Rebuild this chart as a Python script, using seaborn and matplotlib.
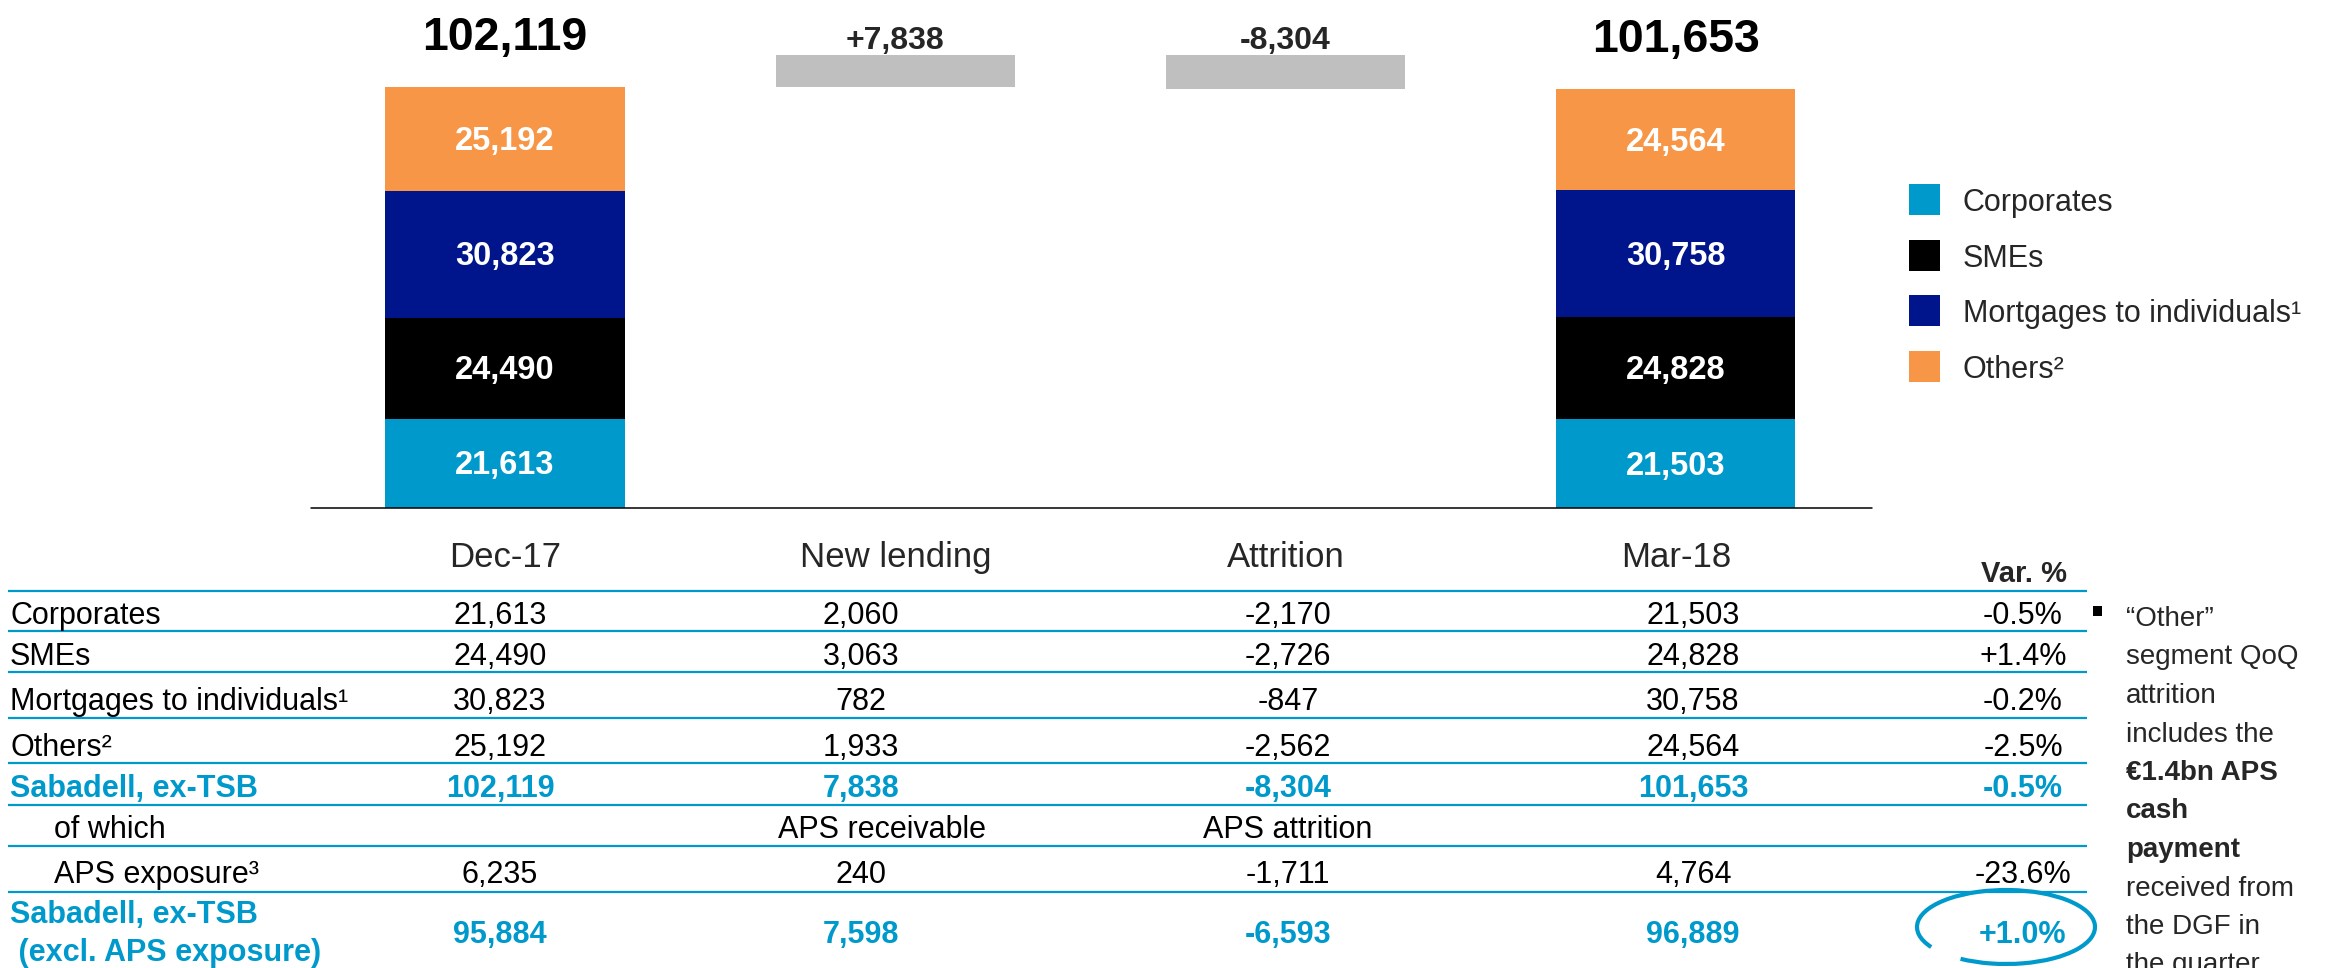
import numpy as np
import pandas as pd
import matplotlib
matplotlib.use("Agg")
import matplotlib.pyplot as plt
import seaborn as sns
from matplotlib.patches import Rectangle, Arc

# ---------------- data ----------------
steps = ["Dec-17", "New lending", "Attrition", "Mar-18"]
segments = ["Corporates", "SMEs", "Mortgages to individuals¹", "Others²"]
dec17 = [21613, 24490, 30823, 25192]
mar18 = [21503, 24828, 30758, 24564]
dec17_total = 102119
mar18_total = 101653
new_lending = 7838
attrition = -8304

row_labels = ["Corporates", "SMEs", "Mortgages to individuals¹", "Others²",
              "Sabadell, ex-TSB", "of which", "APS exposure³",
              "Sabadell, ex-TSB\n (excl. APS exposure)"]
col_dec = [21613, 24490, 30823, 25192, 102119, None, 6235, 95884]
col_new = [2060, 3063, 782, 1933, 7838, "APS receivable", 240, 7598]
col_attr = [-2170, -2726, -847, -2562, -8304, "APS attrition", -1711, -6593]
col_mar = [21503, 24828, 30758, 24564, 101653, None, 4764, 96889]
col_var = [-0.5, 1.4, -0.2, -2.5, -0.5, None, -23.6, 1.0]
var_header = "Var. %"

note_lines = ["“Other”", "segment QoQ", "attrition", "includes the",
              "€1.4bn APS", "cash", "payment", "received from",
              "the DGF in", "the quarter"]
note_bold = [False, False, False, False, True, True, True, False, False, False]

# ---------------- style ----------------
sns.set_style("white")
plt.rcParams["font.family"] = ["Liberation Sans", "DejaVu Sans"]

BLUE = "#0099CC"
colors = ["#0099CC", "#000000", "#00148C", "#F79646"]
GRAY = "#BFBFBF"

W, H = 2344, 968
fig = plt.figure(figsize=(W / 100, H / 100), dpi=100)
ax = fig.add_axes([0, 0, 1, 1])

# layout (pixel geometry of the bar area)
X0, PX_CAT = 505.0, 390.3
BASE, SCALE = 508.0, (508.0 - 87.0) / 102119.0
BW = 239.0 / PX_CAT
PT = 0.72  # points per pixel

# ---------------- stacked bars (seaborn) ----------------
df = pd.DataFrame({
    "step": ["Dec-17"] * 4 + ["Mar-18"] * 4,
    "segment": segments * 2,
    "value": dec17 + mar18,
})
df["top"] = df.groupby("step")["value"].cumsum()
df["mid"] = df["top"] - df["value"] / 2

for seg, col in reversed(list(zip(segments, colors))):
    sub = df[df["segment"] == seg]
    sns.barplot(data=sub, x="step", y="top", order=steps, color=col,
                saturation=1, width=BW, errorbar=None, linewidth=0, ax=ax)

# floating waterfall bars
ax.bar([1], [new_lending], bottom=[dec17_total], width=BW, color=GRAY, linewidth=0)
ax.bar([2], [-attrition], bottom=[dec17_total + new_lending + attrition],
       width=BW, color=GRAY, linewidth=0)

ax.set_xlim(-X0 / PX_CAT, (W - X0) / PX_CAT)
ax.set_ylim((BASE - H) / SCALE, BASE / SCALE)
ax.set_axis_off()

ax.axhline(0, xmin=311 / W, xmax=1872 / W, color="black", lw=1.1)

# segment labels
for _, r in df.iterrows():
    xi = steps.index(r["step"])
    ax.annotate(f"{r['value']:,}", (xi, r["mid"]), xytext=(0, -11 * PT),
                textcoords="offset points", ha="center", va="baseline",
                color="white", fontsize=23.5, fontweight="bold")

# total labels
for xi, tot in [(0, dec17_total), (3, mar18_total)]:
    ax.annotate(f"{tot:,}", (xi, tot), xytext=(0, 37 * PT),
                textcoords="offset points", ha="center", va="baseline",
                fontsize=33.5, fontweight="bold", color="black")
ax.annotate(f"{new_lending:+,}", (1, dec17_total + new_lending), xytext=(0, 6 * PT),
            textcoords="offset points", ha="center", va="baseline",
            fontsize=23, fontweight="bold")
ax.annotate(f"{attrition:+,}", (2, dec17_total + new_lending), xytext=(0, 6 * PT),
            textcoords="offset points", ha="center", va="baseline",
            fontsize=23, fontweight="bold")

# column headers below the bars
for xi, s in enumerate(steps):
    ax.annotate(s, (xi, 0), xytext=(0, -59 * PT), textcoords="offset points",
                ha="center", va="baseline", fontsize=25)

# ---------------- overlay in pixel coordinates ----------------
ov = fig.add_axes([0, 0, 1, 1], zorder=5)
ov.set_xlim(0, W)
ov.set_ylim(H, 0)
ov.set_axis_off()
ov.patch.set_alpha(0)

# legend
leg_y = [184, 240, 295, 351]
for seg, col, y in zip(segments, colors, leg_y):
    ov.add_patch(Rectangle((1909, y), 31, 31, color=col, lw=0))
    ov.text(1963, y + 27, seg, fontsize=22, va="baseline", ha="left")

# table
ov.text(2024, 582, var_header, fontsize=21, fontweight="bold", ha="center", va="baseline")
line_y = [591, 631, 672, 718, 763, 805, 846, 892]
for y in line_y:
    ov.plot([8, 2087], [y, y], color=BLUE, lw=1.6, solid_capstyle="butt")

row_base = [624, 665, 710, 756, 797, 838, 883, 943]
col_x = [500, 861, 1288, 1693]


def fmt(v):
    if v is None:
        return ""
    if isinstance(v, str):
        return v
    return f"{v:,}"


for i, lab in enumerate(row_labels):
    y = row_base[i]
    highlight = i in (4, 7)
    kw = dict(fontsize=22, va="baseline",
              color=BLUE if highlight else "black",
              fontweight="bold" if highlight else "normal")
    lx = 54 if i in (5, 6) else 10
    if i == 7:
        ov.text(10, 923, "Sabadell, ex-TSB", ha="left", **kw)
        ov.text(10, 961, " (excl. APS exposure)", ha="left", **kw)
    else:
        ov.text(lx, y, lab, ha="left", **kw)
    for cx, col in zip(col_x, [col_dec, col_new, col_attr, col_mar]):
        v = col[i]
        if isinstance(v, str):
            cx = 882 if v.startswith("APS rec") else cx
        ov.text(cx, y, fmt(v), ha="center", **kw)
    if col_var[i] is not None:
        ov.text(2023, y, f"{col_var[i]:+.1f}%", ha="center", **kw)

# circled highlight
ov.add_patch(Arc((2006, 927), 178, 74, theta1=165, theta2=145,
                 color=BLUE, lw=3))

# side note
ov.add_patch(Rectangle((2093, 606), 9, 10, color="black", lw=0))
for k, (txt, b) in enumerate(zip(note_lines, note_bold)):
    ov.text(2126, 626 + 38.5 * k, txt, fontsize=20, va="baseline", ha="left",
            fontweight="bold" if b else "normal")

fig.savefig("out.png", dpi=100)
